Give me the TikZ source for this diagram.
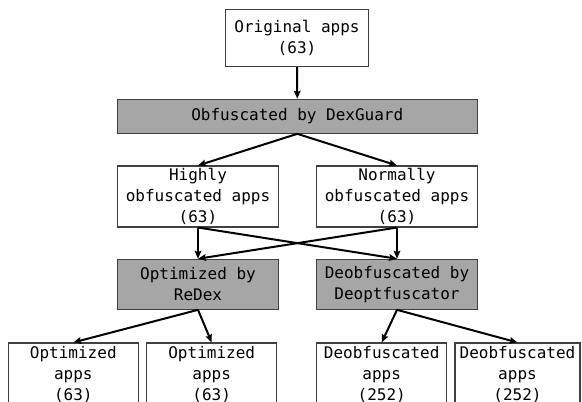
\documentclass[tikz,border=0pt]{standalone}
\usepackage{fontspec}
\setmonofont{DejaVu Sans Mono}
\usetikzlibrary{arrows.meta}
\definecolor{boxline}{HTML}{404040}
\definecolor{procfill}{HTML}{A6A6A6}
\begin{document}
\begin{tikzpicture}[x=0.75pt,y=-0.75pt,
  box/.style={draw=boxline, line width=0.8pt, fill=white, inner sep=0pt, align=center,
    font=\ttfamily\fontsize{12}{15.75}\selectfont, text=black},
  proc/.style={box, fill=procfill},
  arr/.style={line width=1.5pt, draw=black, -{Stealth[length=6pt,width=5pt,inset=1pt]}}]
\useasboundingbox (0,0) rectangle (582,402);
\clip (0,0) rectangle (582,402);
\fill[white] (0,0) rectangle (582,402);

\node[box, minimum width=107pt, minimum height=42.5pt] (orig) at (297,38.3) {Original apps\\(63)};
\node[proc, minimum width=270pt, minimum height=25.5pt] (obf) at (297.3,116.3) {Obfuscated by DexGuard};
\node[box, minimum width=120.5pt, minimum height=45.75pt] (high) at (198,196.5) {Highly\\obfuscated apps\\(63)};
\node[box, minimum width=120.5pt, minimum height=45.75pt] (norm) at (397,196.5) {Normally\\obfuscated apps\\(63)};
\node[proc, minimum width=120.5pt, minimum height=37.5pt] (opt) at (198,284.3) {Optimized by\\ReDex};
\node[proc, minimum width=120.5pt, minimum height=37.5pt] (deob) at (397,284.3) {Deobfuscated by\\Deoptfuscator};
\node[box, minimum width=97.5pt, minimum height=46.5pt] (o1) at (73.3,374) {Optimized\\apps\\(63)};
\node[box, minimum width=97.5pt, minimum height=46.5pt] (o2) at (211.7,374) {Optimized\\apps\\(63)};
\node[box, minimum width=97.5pt, minimum height=46.5pt] (d1) at (381.7,374) {Deobfuscated\\apps\\(252)};
\node[box, minimum width=93.75pt, minimum height=46.5pt] (d2) at (517.5,374) {Deobfuscated\\apps\\(252)};

\draw[arr] (orig.south) -- (obf.north);
\draw[arr] (obf.south) -- (high.north);
\draw[arr] (obf.south) -- (norm.north);
\draw[arr] (high.south) -- (opt.north);
\draw[arr] (high.south) -- (deob.north);
\draw[arr] (norm.south) -- (opt.north);
\draw[arr] (norm.south) -- (deob.north);
\draw[arr] (opt.south) -- (o1.north);
\draw[arr] (opt.south) -- (o2.north);
\draw[arr] (deob.south) -- (d1.north);
\draw[arr] (deob.south) -- (d2.north);
\end{tikzpicture}
\end{document}
